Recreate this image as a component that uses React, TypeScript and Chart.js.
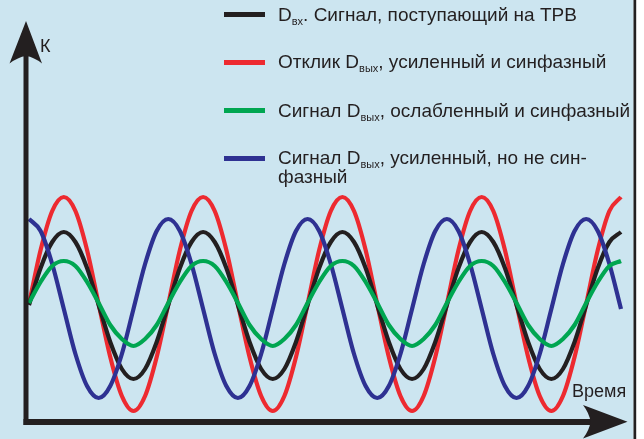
import React, { useEffect, useRef } from "react";
import { Chart, registerables } from "chart.js";

Chart.register(...registerables);

// Samples every 1/12 of a period, 4.25 periods shown (values in K units, 0 = mid-line)
const blackInput = [
  0, 37, 63, 73, 63, 37, 0, -37, -64, -74, -64, -37,
  0, 37, 63, 73, 63, 37, 0, -37, -64, -74, -64, -37,
  0, 37, 63, 73, 63, 37, 0, -37, -64, -74, -64, -37,
  0, 37, 63, 73, 63, 37, 0, -37, -64, -74, -64, -37,
  0, 37, 63, 73,
];
const redAmplified = [
  1, 55, 94, 108, 94, 55, 1, -52, -91, -106, -91, -52,
  1, 55, 94, 108, 94, 55, 1, -52, -91, -106, -91, -52,
  1, 55, 94, 108, 94, 55, 1, -52, -91, -106, -91, -52,
  1, 55, 94, 108, 94, 55, 1, -52, -91, -106, -91, -52,
  1, 55, 94, 108,
];
const greenAttenuated = [
  2, 23, 39, 44, 39, 23, 2, -20, -34, -41, -34, -20,
  2, 23, 39, 44, 39, 23, 2, -20, -34, -41, -34, -20,
  2, 23, 39, 44, 39, 23, 2, -20, -34, -41, -34, -20,
  2, 23, 39, 44, 39, 23, 2, -20, -34, -41, -34, -20,
  2, 23, 39, 44,
];
const blueShifted = [
  86, 74, 41, -4, -49, -81, -93, -81, -49, -4, 41, 74,
  86, 74, 41, -4, -49, -81, -93, -81, -49, -4, 41, 74,
  86, 74, 41, -4, -49, -81, -93, -81, -49, -4, 41, 74,
  86, 74, 41, -4, -49, -81, -93, -81, -49, -4, 41, 74,
  86, 74, 41, -4,
];

const seriesLabels = [
  "Dвх. Сигнал, поступающий на ТРВ",
  "Отклик Dвых, усиленный и синфазный",
  "Сигнал Dвых, ослабленный и синфазный",
  "Сигнал Dвых, усиленный, но не синфазный",
];
const seriesColors = ["#231f20", "#ed2a30", "#00a651", "#2e3192"];
const yAxisLabel = "К";
const xAxisLabel = "Время";

const BG = "#cce5f0";
const INK = "#231f20";
const FONT = '"Liberation Sans", Arial, sans-serif';

const decorPlugin = {
  id: "decor",
  beforeDraw(chart: any) {
    const { ctx, width, height } = chart;
    ctx.save();
    ctx.fillStyle = "#ffffff";
    ctx.fillRect(0, 0, width, height);
    ctx.fillStyle = BG;
    ctx.fillRect(0, 0, 633.5, height);
    ctx.fillStyle = INK;
    ctx.fillRect(633.5, 0, 2.7, height);
    ctx.restore();
  },
  afterDatasetsDraw(chart: any) {
    const { ctx } = chart;
    ctx.save();
    ctx.fillStyle = INK;
    // vertical axis
    ctx.fillRect(23.5, 56, 5, 369);
    ctx.beginPath();
    ctx.moveTo(26, 21);
    ctx.lineTo(42, 63.5);
    ctx.quadraticCurveTo(34, 57, 26, 56);
    ctx.quadraticCurveTo(18, 57, 9.5, 63.5);
    ctx.closePath();
    ctx.fill();
    // horizontal axis
    ctx.fillRect(23.5, 419, 568, 6);
    ctx.beginPath();
    ctx.moveTo(627.5, 421.8);
    ctx.lineTo(583, 438.5);
    ctx.quadraticCurveTo(589.5, 430, 590.5, 421.8);
    ctx.quadraticCurveTo(589.5, 413.5, 583, 405);
    ctx.closePath();
    ctx.fill();
    ctx.restore();
  },
};

const legendRows: { sub: string; before: string; after: string; top: number }[] = [
  { before: "D", sub: "вх", after: ". Сигнал, поступающий на ТРВ", top: 4.6 },
  { before: "Отклик D", sub: "вых", after: ", усиленный и синфазный", top: 52.2 },
  { before: "Сигнал D", sub: "вых", after: ", ослабленный и синфазный", top: 100.6 },
  { before: "Сигнал D", sub: "вых", after: ", усиленный, но не син-", top: 148.2 },
];

export default function App() {
  const canvasRef = useRef<HTMLCanvasElement | null>(null);

  useEffect(() => {
    if (!canvasRef.current) return;
    const series = [blackInput, redAmplified, greenAttenuated, blueShifted];
    const chart = new Chart(canvasRef.current, {
      type: "line",
      data: {
        datasets: series.map((vals, k) => ({
          label: seriesLabels[k],
          data: vals.map((v, i) => ({ x: i, y: v })),
          borderColor: seriesColors[k],
          backgroundColor: seriesColors[k],
          borderWidth: 4.2,
          pointRadius: 0,
          fill: false,
          cubicInterpolationMode: "monotone" as const,
          clip: false as any,
          order: [2, 3, 0, 1][k],
        })),
      },
      options: {
        animation: false,
        responsive: false,
        devicePixelRatio: 1,
        events: [],
        layout: { padding: { left: 29, right: 23, top: 185, bottom: 14 } },
        plugins: { legend: { display: false }, tooltip: { enabled: false }, title: { display: false } },
        scales: {
          x: { type: "linear", min: 0, max: blackInput.length - 1, display: false },
          y: { type: "linear", min: -120, max: 120, display: false },
        },
      },
      plugins: [decorPlugin],
    });
    return () => chart.destroy();
  }, []);

  const textStyle: React.CSSProperties = {
    position: "absolute",
    fontFamily: FONT,
    fontSize: 19,
    lineHeight: "19px",
    color: INK,
    whiteSpace: "nowrap",
  };

  return (
    <div style={{ position: "absolute", left: 0, top: 0, width: 644, height: 439, overflow: "hidden" }}>
      <canvas ref={canvasRef} width={644} height={439} style={{ position: "absolute", left: 0, top: 0, width: 644, height: 439 }} />
      {legendRows.map((r, k) => (
        <React.Fragment key={k}>
          <div style={{ position: "absolute", left: 224, top: r.top + 16.1 - 8.5, width: 41, height: 5, background: seriesColors[k] }} />
          <div style={{ ...textStyle, left: 278, top: r.top }}>
            {r.before}
            <span style={{ fontSize: 11, position: "relative", top: 4 }}>{r.sub}</span>
            {r.after}
          </div>
        </React.Fragment>
      ))}
      <div style={{ ...textStyle, left: 278, top: 167 }}>фазный</div>
      <div style={{ ...textStyle, fontSize: 18, lineHeight: "18px", left: 40, top: 36.5 }}>{yAxisLabel}</div>
      <div style={{ ...textStyle, fontSize: 18, lineHeight: "18px", left: 572, top: 382 }}>{xAxisLabel}</div>
    </div>
  );
}
